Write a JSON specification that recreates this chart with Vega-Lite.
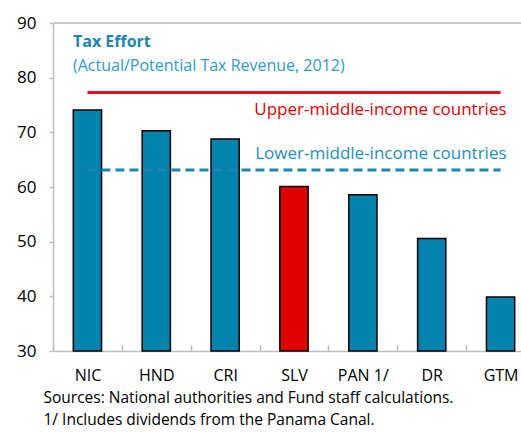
{
  "$schema": "https://vega.github.io/schema/vega-lite/v6.json",
  "width": 468,
  "height": 328,
  "autosize": "none",
  "padding": {"left": 53, "top": 23, "right": 0, "bottom": 81},
  "background": "white",
  "config": {
    "font": "Open Sans",
    "view": {"stroke": null},
    "axis": {"labelFont": "Open Sans", "titleFont": "Open Sans"}
  },
  "title": {
    "text": "Tax Effort",
    "subtitle": "(Actual/Potential Tax Revenue, 2012)",
    "anchor": "start",
    "frame": "group",
    "dx": 20,
    "dy": 64,
    "font": "Open Sans",
    "fontSize": 16,
    "fontWeight": "bold",
    "color": "#1A86B4",
    "subtitleFont": "Open Sans",
    "subtitleFontSize": 16,
    "subtitleColor": "#2E9ACB",
    "subtitlePadding": 8
  },
  "datasets": {
    "bars": [
      {"country": "NIC", "value": 74.1, "grp": "other"},
      {"country": "HND", "value": 70.3, "grp": "other"},
      {"country": "CRI", "value": 68.8, "grp": "other"},
      {"country": "SLV", "value": 60.1, "grp": "SLV"},
      {"country": "PAN 1/", "value": 58.6, "grp": "other"},
      {"country": "DR", "value": 50.6, "grp": "other"},
      {"country": "GTM", "value": 39.9, "grp": "other"}
    ],
    "upper": [
      {"country": "NIC", "value": 77.3},
      {"country": "GTM", "value": 77.3}
    ],
    "lower": [
      {"country": "NIC", "value": 63.1},
      {"country": "GTM", "value": 63.1}
    ],
    "notes": [
      {"country": "GTM", "value": 74.1, "label": "Upper-middle-income countries", "grp": "upper"},
      {"country": "GTM", "value": 66.0, "label": "Lower-middle-income countries", "grp": "lower"}
    ]
  },
  "resolve": {"scale": {"color": "independent"}},
  "layer": [
    {
      "data": {"name": "bars"},
      "mark": {"type": "rule", "color": "#C8C8C8", "strokeWidth": 1.5},
      "encoding": {"y": {"datum": 90, "type": "quantitative", "scale": {"domain": [30, 90], "nice": false, "zero": false}}}
    },
    {
      "data": {"name": "bars"},
      "mark": {"type": "bar", "width": {"band": 0.41}, "stroke": "#000000", "strokeWidth": 1.5},
      "encoding": {
        "x": {
          "field": "country",
          "type": "nominal",
          "sort": null,
          "scale": {"domain": ["NIC", "HND", "CRI", "SLV", "PAN 1/", "DR", "GTM"], "range": [0, 482], "paddingInner": 0, "paddingOuter": 0},
          "axis": {
            "title": ["Sources: National authorities and Fund staff calculations.", "1/ Includes dividends from the Panama Canal."],
            "titleAnchor": "start",
            "titleAlign": "left",
            "titleX": -10,
            "titleY": 51,
            "titleBaseline": "alphabetic",
            "titleFontWeight": "normal",
            "titleFontSize": 15.5,
            "titleLineHeight": 22,
            "titleColor": "#000000",
            "labelAngle": 0,
            "labelFontSize": 16,
            "labelColor": "#000000",
            "labelPadding": 22,
            "tickBand": "extent",
            "tickSize": -6,
            "tickColor": "#B8B8B8",
            "tickWidth": 1.5,
            "domainColor": "#C0C0C0",
            "domainWidth": 1.5
          }
        },
        "y": {
          "field": "value",
          "type": "quantitative",
          "scale": {"domain": [30, 90], "nice": false, "zero": false},
          "axis": {
            "values": [30, 40, 50, 60, 70, 80, 90],
            "title": null,
            "grid": false,
            "labelFontSize": 17,
            "labelColor": "#000000",
            "labelPadding": 13,
            "tickSize": 4,
            "tickColor": "#C0C0C0",
            "tickWidth": 1.5,
            "domainColor": "#C0C0C0",
            "domainWidth": 1.5
          }
        },
        "y2": {"datum": 30},
        "color": {"field": "grp", "type": "nominal", "scale": {"domain": ["other", "SLV"], "range": ["#0083AF", "#E00000"]}, "legend": null}
      }
    },
    {
      "data": {"name": "upper"},
      "mark": {"type": "line", "color": "#E8101A", "strokeWidth": 3},
      "encoding": {
        "x": {"field": "country", "type": "nominal", "sort": null},
        "y": {"field": "value", "type": "quantitative"}
      }
    },
    {
      "data": {"name": "lower"},
      "mark": {"type": "line", "color": "#1A86B4", "strokeWidth": 3, "strokeDash": [9, 5]},
      "encoding": {
        "x": {"field": "country", "type": "nominal", "sort": null},
        "y": {"field": "value", "type": "quantitative"}
      }
    },
    {
      "data": {"name": "notes"},
      "mark": {"type": "text", "align": "right", "baseline": "middle", "dx": 6, "fontSize": 17, "font": "Open Sans"},
      "encoding": {
        "x": {"field": "country", "type": "nominal", "sort": null},
        "y": {"field": "value", "type": "quantitative"},
        "text": {"field": "label"},
        "color": {"field": "grp", "type": "nominal", "scale": {"domain": ["upper", "lower"], "range": ["#E00000", "#1A8FBF"]}, "legend": null}
      }
    }
  ]
}
